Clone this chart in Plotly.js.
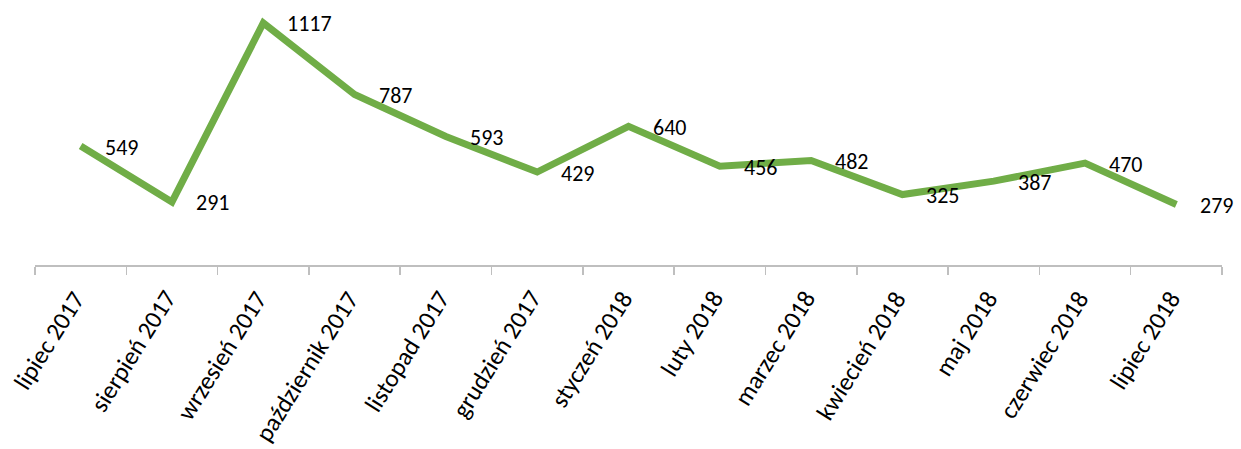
<!DOCTYPE html>
<html>
<head>
<meta charset="utf-8">
<script src="https://cdn.plot.ly/plotly-3.0.1.min.js"></script>
<style>html,body{margin:0;padding:0;background:#fff;}#chart{width:1241px;height:449px;}</style>
</head>
<body>
<div id="chart"></div>
<script>
const categories = ["lipiec 2017","sierpień 2017","wrzesień 2017","październik 2017","listopad 2017","grudzień 2017","styczeń 2018","luty 2018","marzec 2018","kwiecień 2018","maj 2018","czerwiec 2018","lipiec 2018"];
const values = [549, 291, 1117, 787, 593, 429, 640, 456, 482, 325, 387, 470, 279];

const FONT = "Carlito, Calibri, 'Liberation Sans', Arial, sans-serif";

const trace = {
  type: "scatter",
  mode: "lines",
  x: categories,
  y: values,
  line: {color: "#70AD47", width: 7},
  hoverinfo: "x+y"
};

const valueLabels = categories.map((c, i) => ({
  x: c, y: values[i], xref: "x", yref: "y",
  text: String(values[i]),
  showarrow: false,
  xanchor: "left", yanchor: "middle",
  xshift: 22, yshift: -1,
  font: {family: FONT, size: 22, color: "#000"}
}));

const categoryLabels = categories.map((c) => ({
  x: c, y: 0, xref: "x", yref: "paper",
  text: c,
  showarrow: false,
  textangle: -58,
  xanchor: "right", yanchor: "top",
  xshift: 12, yshift: -19,
  borderpad: 0,
  font: {family: FONT, size: 25, color: "#000"}
}));

const layout = {
  width: 1241, height: 449,
  margin: {l: 35, r: 19, t: 5, b: 184, pad: 0},
  paper_bgcolor: "#fff", plot_bgcolor: "#fff",
  showlegend: false,
  xaxis: {
    type: "category",
    range: [-0.5, 12.5],
    showline: true, linecolor: "#BFBFBF", linewidth: 1.5,
    ticks: "outside", tickson: "boundaries", ticklen: 8, tickcolor: "#BFBFBF", tickwidth: 1.5,
    showticklabels: false,
    showgrid: false, zeroline: false, fixedrange: true
  },
  yaxis: {
    range: [0, 1200],
    visible: false, showgrid: false, zeroline: false, fixedrange: true
  },
  annotations: valueLabels.concat(categoryLabels)
};

Plotly.newPlot("chart", [trace], layout, {displayModeBar: false, staticPlot: true});
</script>
</body>
</html>
